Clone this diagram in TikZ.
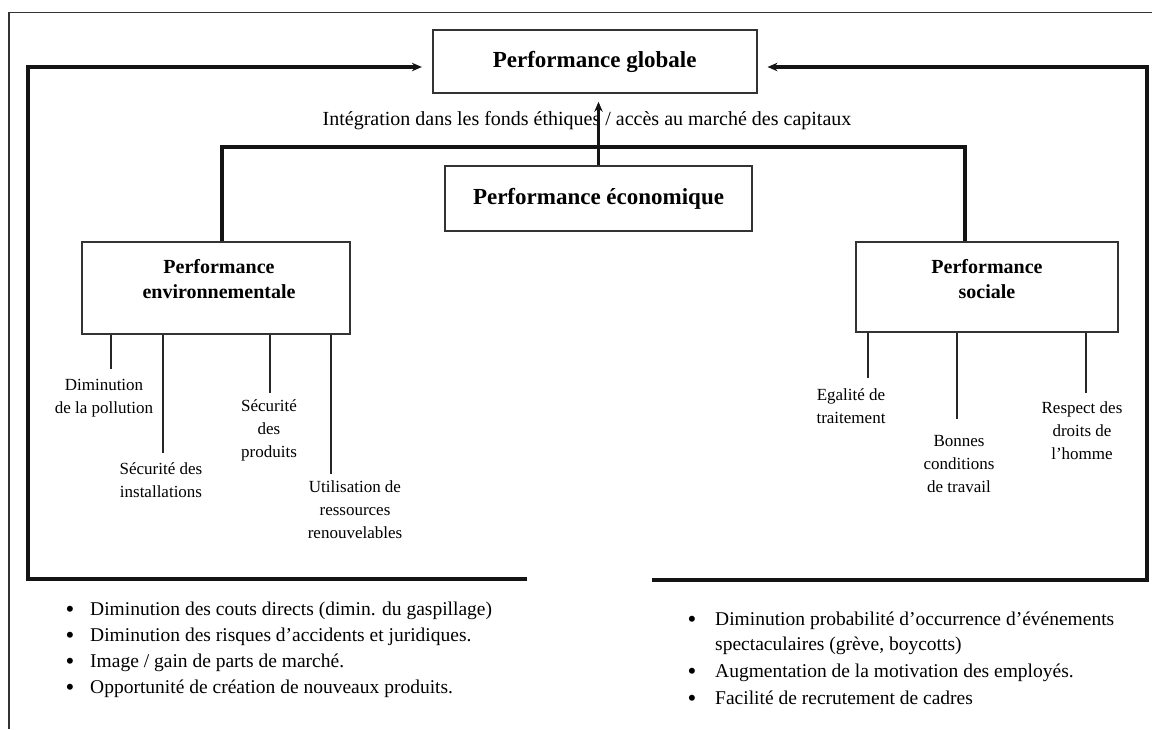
\documentclass[tikz,border=0pt]{standalone}
\usepackage{fontspec}
\setmainfont{Liberation Serif}
\usetikzlibrary{arrows.meta}
\begin{document}
\begin{tikzpicture}[x=1pt,y=-1pt,
  frame/.style={line width=1.3pt, black!80},
  flow/.style={line width=3.1pt, black!92, line join=miter},
  flowarrow/.style={flow, -{Stealth[length=10pt,width=8.5pt]}},
  box/.style={draw=black!80, line width=1.6pt, rectangle, inner sep=0pt},
  bigtitle/.style={font=\fontsize{23}{27}\selectfont\bfseries},
  % multi-line nodes below are anchored on the baseline of their last line
  boxtitle/.style={font=\fontsize{20}{25}\selectfont\bfseries, align=center, inner sep=0pt, anchor=base},
  leaf/.style={line width=1.7pt, black!85},
  leaflabel/.style={font=\fontsize{17}{23}\selectfont, align=center, inner sep=0pt, anchor=base},
  bodytext/.style={font=\fontsize{19.5}{25}\selectfont, inner sep=0pt, anchor=base west, align=left},
  bulletmark/.style={font=\fontsize{25}{25}\selectfont, inner sep=0pt, anchor=base, yshift=-2.5pt},
]
\useasboundingbox (0,0) rectangle (1152,729);

% outer page frame
\coordinate (fTR) at (1152,12.7);
\coordinate (fTL) at (9,12.7);
\coordinate (fBL) at (9,729);
\draw[frame] (fTR) -- (fTL) -- (fBL);

% main boxes
\node[box, minimum width=324, minimum height=63, bigtitle] (glob) at (594.7,61.5) {Performance globale};
\node[box, minimum width=307, minimum height=65, bigtitle] (eco) at (598.5,198.5) {Performance économique};
\node[box, minimum width=268, minimum height=92] (env) at (216,288) {};
\node[box, minimum width=262, minimum height=90] (soc) at (987,287) {};
\node[boxtitle] (envt) at (219,298) {Performance\\environnementale};
\node[boxtitle] (soct) at (987,298) {Performance\\sociale};

% link label
\node[font=\fontsize{20}{25}\selectfont, inner sep=0pt, anchor=base] (lab) at (587,125)
  {Intégration dans les fonds éthiques / accès au marché des capitaux};

% economic -> global
\draw[flowarrow, shorten >=8pt] (eco.north) -- (eco.north |- glob.south);

% branch linking environmental and social performance
\coordinate (hubL) at (222,147);
\coordinate (hubR) at (965,147);
\draw[flow] (hubL |- env.north) -- (hubL) -- (hubR) -- (hubR |- soc.north);

% feedback loops to global performance
\coordinate (lEnd) at (527,579);
\coordinate (lCorner) at (28,579);
\coordinate (lTop) at (28,67);
\draw[flowarrow, shorten >=10pt] (lEnd) -- (lCorner) -- (lTop) -- (glob.west |- lTop);
\coordinate (rEnd) at (652,580);
\coordinate (rCorner) at (1147,580);
\coordinate (rTop) at (1147,67);
\draw[flowarrow, shorten >=10pt] (rEnd) -- (rCorner) -- (rTop) -- (glob.east |- rTop);

% environmental indicators
\coordinate (e1) at (111,369);
\coordinate (e2) at (163,453);
\coordinate (e3) at (270,393);
\coordinate (e4) at (331,474);
\foreach \c in {e1,e2,e3,e4} \draw[leaf] (\c |- env.south) -- (\c);
\node[leaflabel] (e1t) at (104,413) {Diminution\\de la pollution};
\node[leaflabel] (e2t) at (161,497) {Sécurité des\\installations};
\node[leaflabel] (e3t) at (269,457) {Sécurité\\des\\produits};
\node[leaflabel] (e4t) at (355,538) {Utilisation de\\ressources\\renouvelables};

% social indicators
\coordinate (s1) at (868,378);
\coordinate (s2) at (957,419);
\coordinate (s3) at (1086,393);
\foreach \c in {s1,s2,s3} \draw[leaf] (\c |- soc.south) -- (\c);
\node[leaflabel] (s1t) at (851,423) {Egalité de\\traitement};
\node[leaflabel] (s2t) at (959,492) {Bonnes\\conditions\\de travail};
\node[leaflabel] (s3t) at (1082,459) {Respect des\\droits de\\l’homme};

% benefits of environmental performance
\node[bulletmark] (lb1) at (70,615) {•};
\node[bulletmark] (lb2) at (70,641) {•};
\node[bulletmark] (lb3) at (70,667) {•};
\node[bulletmark] (lb4) at (70,693) {•};
\node[bodytext] (lt1) at (90,615) {Diminution des couts directs (dimin. du gaspillage)};
\node[bodytext] (lt2) at (90,641) {Diminution des risques d’accidents et juridiques.};
\node[bodytext] (lt3) at (90,667) {Image / gain de parts de marché.};
\node[bodytext] (lt4) at (90,693) {Opportunité de création de nouveaux produits.};

% benefits of social performance
\node[bulletmark] (rb1) at (692,625) {•};
\node[bulletmark] (rb2) at (692,677) {•};
\node[bulletmark] (rb3) at (692,704) {•};
\node[bodytext] (rt1) at (715,650) {Diminution probabilité d’occurrence d’événements\\spectaculaires (grève, boycotts)};
\node[bodytext] (rt2) at (715,677) {Augmentation de la motivation des employés.};
\node[bodytext] (rt3) at (715,704) {Facilité de recrutement de cadres};
\end{tikzpicture}
\end{document}
